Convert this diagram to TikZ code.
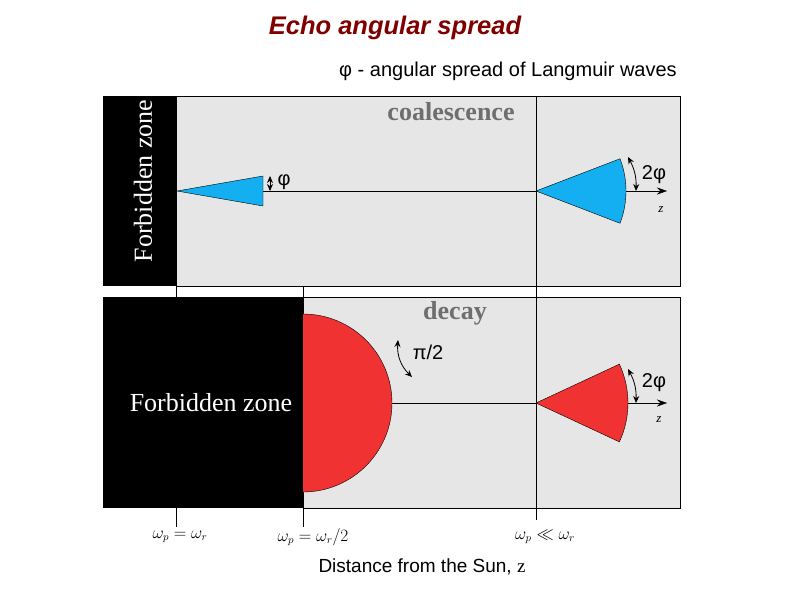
\documentclass[tikz,border=0pt]{standalone}
\usepackage{fontspec}
\setmainfont{Liberation Serif}
\setsansfont{Liberation Sans}
\usetikzlibrary{arrows.meta}
\definecolor{panelgray}{RGB}{230,230,230}
\definecolor{skyblue}{RGB}{20,175,240}
\definecolor{conered}{RGB}{240,50,50}
\definecolor{titlered}{RGB}{128,0,0}
\definecolor{labelgray}{RGB}{110,110,110}
\tikzset{
  panel/.style={fill=panelgray,draw=black,thin},
  cone/.style={draw=black,thin},
  spread/.style={{Stealth[length=7pt,width=6pt]}-{Stealth[length=7pt,width=6pt]},thick},
  sanslabel/.style={font=\sffamily\fontsize{20}{24}\selectfont,inner sep=0pt},
  zonelabel/.style={text=white,font=\fontsize{26}{30}\selectfont,inner sep=0pt},
  processlabel/.style={text=labelgray,font=\bfseries\fontsize{26}{30}\selectfont,inner sep=0pt},
  zlabel/.style={font=\itshape\fontsize{13}{15}\selectfont,inner sep=0pt},
  ticklabel/.style={font=\fontsize{16}{18}\selectfont,inner sep=0pt}
}
\begin{document}
\begin{tikzpicture}[x=1pt,y=-1pt]
\useasboundingbox (0,0) rectangle (794,595);

\node[text=titlered,font=\sffamily\bfseries\itshape\fontsize{25.5}{30}\selectfont] (title) at (395,28) {Echo angular spread};
\node[sanslabel] (subtitle) at (508,71) {φ - angular spread of Langmuir waves};

\fill[black] (103,96) rectangle (176,286);
\draw[panel] (176,96) rectangle (680,286);
\fill[black] (103,297) rectangle (303,508);
\draw[panel] (303,297) rectangle (680,508);

\foreach \x in {176,303} {
  \draw (\x,286) -- (\x,297);
  \draw (\x,508) -- (\x,527);
}
\draw (536,96) -- (536,520);

\coordinate (smalltip) at (177,191);
\coordinate (smallbase) at (263,191);
\coordinate (topapex) at (536,191);
\coordinate (topend) at (667,191);
\draw[-{Stealth[length=10pt,width=7pt]}] (smallbase) -- (topend);
\filldraw[cone,fill=skyblue] (smalltip) -- (263,176) -- (263,206) -- cycle;
\filldraw[cone,fill=skyblue] (topapex) -- ++(-21:90) arc(-21:21:90) -- cycle;

\coordinate (halfedge) at (392,403);
\coordinate (bottomapex) at (536,403);
\coordinate (bottomend) at (667,403);
\draw[-{Stealth[length=10pt,width=7pt]}] (halfedge) -- (bottomend);
\filldraw[cone,fill=conered] (303,314) arc(-90:90:89);
\filldraw[cone,fill=conered] (bottomapex) -- ++(-25:92) arc(-25:25:92) -- cycle;

\draw[spread] (270,176) -- (270,191);
\draw[spread] (628,157) to[bend left=15] (636,191);
\draw[spread] (628,369) to[bend left=15] (636,403);
\draw[spread] (398,340) to[bend right=25] (412,377);

\node[sanslabel] (phi) at (284,182) {φ};
\node[sanslabel] (twophitop) at (654,175) {2φ};
\node[sanslabel] (twophibottom) at (654,383) {2φ};
\node[sanslabel] (pihalf) at (428,352) {π/2};
\node[zlabel] (ztop) at (661,210) {z};
\node[zlabel] (zbottom) at (659,420) {z};

\node[processlabel] (coalescence) at (451,112) {coalescence};
\node[processlabel] (decay) at (455,313) {decay};
\node[zonelabel,rotate=90] (fzonetop) at (143,181) {Forbidden zone};
\node[zonelabel] (fzonebottom) at (211,403) {Forbidden zone};

\node[ticklabel] (wequal) at (180,537) {$\omega_p=\omega_r$};
\node[ticklabel] (whalf) at (313,537) {$\omega_p=\omega_r/2$};
\node[ticklabel] (wless) at (545,537) {$\omega_p\ll\omega_r$};
\node[font=\sffamily\fontsize{19}{22}\selectfont,inner sep=0pt] (axislabel) at (422,567) {Distance from the Sun, {\rmfamily z}};
\end{tikzpicture}
\end{document}
